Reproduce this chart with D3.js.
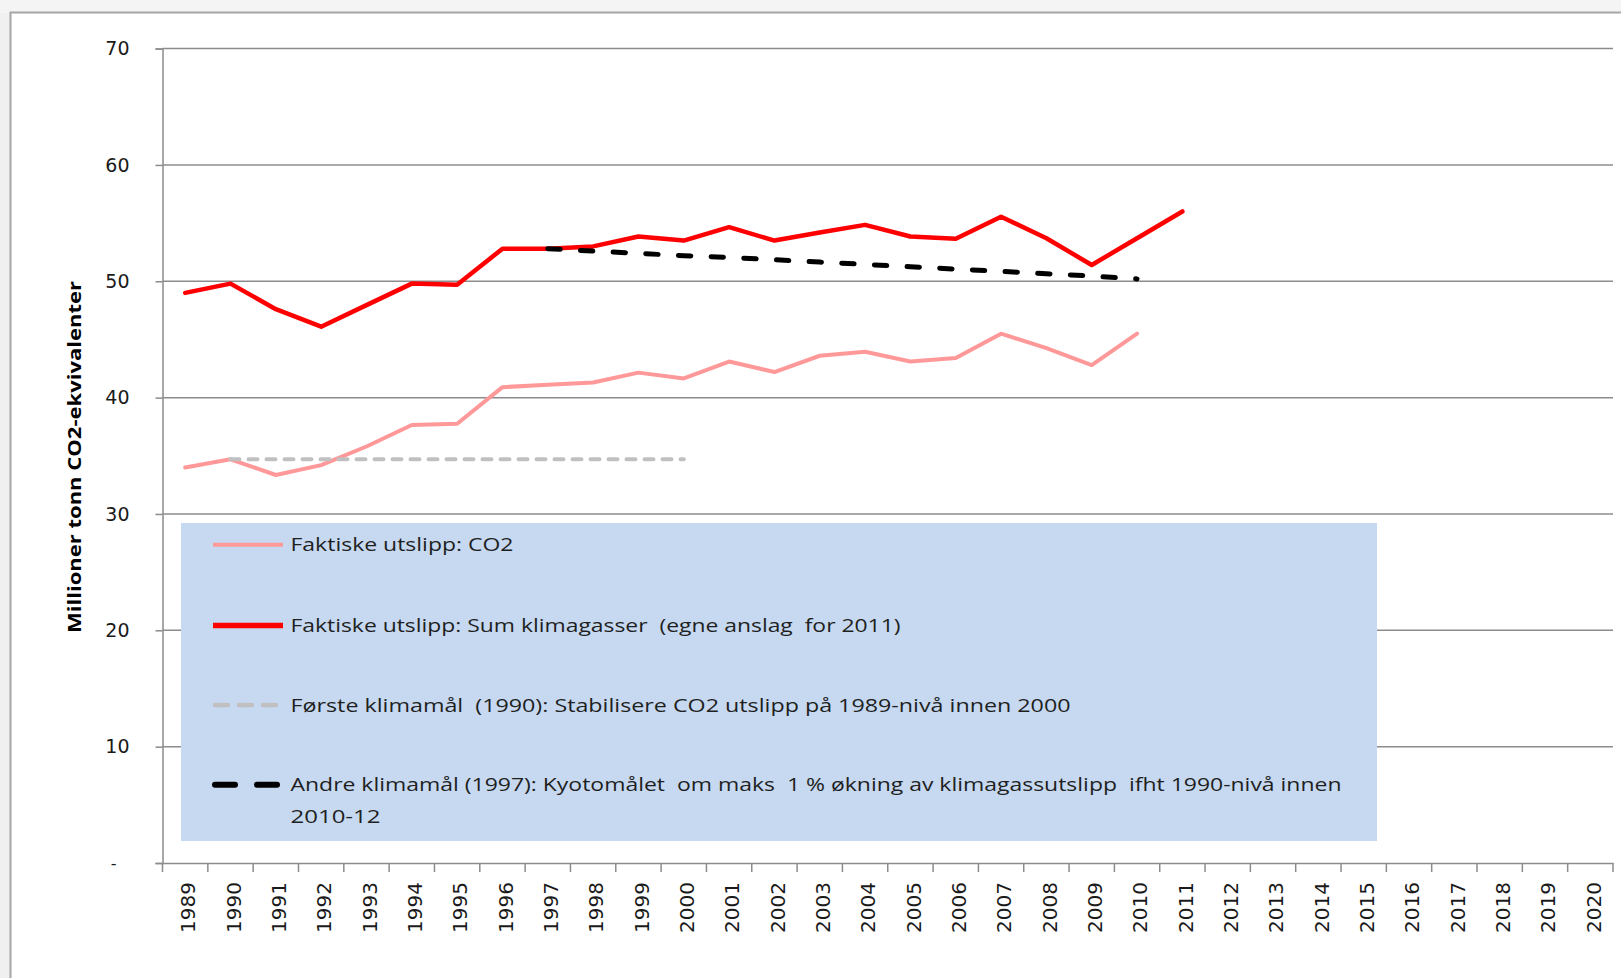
<!DOCTYPE html>
<html><head><meta charset="utf-8">
<script src="https://cdn.jsdelivr.net/npm/d3@7/dist/d3.min.js"></script>
<style>
body{margin:0;background:#f0f0f0;overflow:hidden}
svg{display:block}
</style>
</head><body>
<svg id="chart" width="1621" height="978"></svg>
<script>
const categories = ["1989","1990","1991","1992","1993","1994","1995","1996","1997","1998","1999","2000","2001","2002","2003","2004","2005","2006","2007","2008","2009","2010","2011","2012","2013","2014","2015","2016","2017","2018","2019","2020"];
const yTicks = [0,10,20,30,40,50,60,70];

const co2Years = ["1989","1990","1991","1992","1993","1994","1995","1996","1997","1998","1999","2000","2001","2002","2003","2004","2005","2006","2007","2008","2009","2010"];
const co2Values = [34.0,34.7,33.35,34.2,35.8,37.65,37.75,40.9,41.1,41.3,42.15,41.65,43.1,42.2,43.6,43.95,43.1,43.4,45.5,44.25,42.8,45.5];

const sumYears = ["1989","1990","1991","1992","1993","1994","1995","1996","1997","1998","1999","2000","2001","2002","2003","2004","2005","2006","2007","2008","2009","2010","2011"];
const sumValues = [49.0,49.8,47.6,46.1,47.95,49.8,49.7,52.8,52.8,53.0,53.85,53.5,54.65,53.5,54.2,54.85,53.85,53.65,55.55,53.7,51.4,53.7,56.0];

const goal1Years = ["1990","1991","1992","1993","1994","1995","1996","1997","1998","1999","2000"];
const goal1Values = [34.7,34.7,34.7,34.7,34.7,34.7,34.7,34.7,34.7,34.7,34.7];

const goal2Years = ["1997","1998","1999","2000","2001","2002","2003","2004","2005","2006","2007","2008","2009","2010"];
const goal2Values = [52.8,52.6,52.4,52.2,52.05,51.85,51.65,51.45,51.25,51.05,50.85,50.65,50.45,50.2];

const yTitle = "Millioner tonn CO2-ekvivalenter";
const legendTexts = [
  "Faktiske utslipp: CO2",
  "Faktiske utslipp: Sum klimagasser  (egne anslag  for 2011)",
  "Første klimamål  (1990): Stabilisere CO2 utslipp på 1989-nivå innen 2000",
  "Andre klimamål (1997): Kyotomålet  om maks  1 % økning av klimagassutslipp  ifht 1990-nivå innen",
  "2010-12"
];

const svg = d3.select("#chart");
const W = 1621, H = 978;

// backgrounds / frame
svg.append("rect").attr("x",0).attr("y",0).attr("width",W).attr("height",13).attr("fill","#f4f4f4");
svg.append("rect").attr("x",10.5).attr("y",12.5).attr("width",W+20).attr("height",H+20)
  .attr("fill","#ffffff").attr("stroke","#a6a6a6").attr("stroke-width",2);

const x0 = 162.5, x1 = 1613;
const x = d3.scaleBand().domain(categories).range([x0, x1]);
const y = d3.scaleLinear().domain([0,70]).range([863, 48.6]);
const cx = d => x(d) + x.bandwidth()/2;

// gridlines
svg.append("g").selectAll("line").data(yTicks.filter(d=>d>0)).join("line")
  .attr("x1", x0).attr("x2", x1).attr("y1", d=>y(d)).attr("y2", d=>y(d))
  .attr("stroke","#8c8c8c").attr("stroke-width",1.5);

// y axis
const yAxis = svg.append("g").attr("transform",`translate(${x0},0)`)
  .call(d3.axisLeft(y).tickValues(yTicks).tickSize(7).tickPadding(26)
    .tickFormat(d => d===0 ? "-" : d));
yAxis.select(".domain").attr("stroke","#8c8c8c").attr("stroke-width",1.5);
yAxis.selectAll(".tick line").attr("stroke","#8c8c8c").attr("stroke-width",1.5);
yAxis.selectAll(".tick text").attr("font-family","'DejaVu Sans', Verdana, sans-serif")
  .attr("font-size",19).attr("fill","#1a1a1a");
yAxis.selectAll(".tick text").filter(d=>d===0).attr("dx",-13).attr("font-size",16);

// x axis
const xAxis = svg.append("g").attr("transform",`translate(0,${y(0)})`)
  .call(d3.axisBottom(x).tickSize(0).tickPadding(0));
xAxis.select(".domain").attr("stroke","#8c8c8c").attr("stroke-width",1.5);
xAxis.selectAll(".tick text")
  .attr("font-family","'DejaVu Sans', Verdana, sans-serif").attr("font-size",20)
  .attr("fill","#1a1a1a")
  .attr("text-anchor","end")
  .attr("transform","translate(3,19) rotate(-90)")
  .attr("x",0).attr("y",0).attr("dy","0.36em");
// boundary tick marks
svg.append("g").selectAll("line").data(categories.concat(["end"])).join("line")
  .attr("x1", d => d==="end" ? x1 : x(d)).attr("x2", d => d==="end" ? x1 : x(d))
  .attr("y1", y(0)).attr("y2", y(0)+9)
  .attr("stroke","#8c8c8c").attr("stroke-width",1.5);

// y title
svg.append("text")
  .attr("transform",`translate(81,457) rotate(-90)`)
  .attr("text-anchor","middle")
  .attr("font-family","'Open Sans', 'Liberation Sans', sans-serif")
  .attr("font-weight","bold").attr("font-size",18).attr("fill","#000")
  .attr("textLength",352).attr("lengthAdjust","spacingAndGlyphs")
  .text(yTitle);

// lines
const mk = (yrs, vals) => yrs.map((yr,i)=>({yr, v: vals[i]}));
const line = d3.line().x(d=>cx(d.yr)).y(d=>y(d.v));

svg.append("path").datum(mk(co2Years, co2Values)).attr("d", line)
  .attr("fill","none").attr("stroke","#ff9999").attr("stroke-width",4)
  .attr("stroke-linejoin","round").attr("stroke-linecap","round");
svg.append("path").datum(mk(sumYears, sumValues)).attr("d", line)
  .attr("fill","none").attr("stroke","#ff0000").attr("stroke-width",4.5)
  .attr("stroke-linejoin","round").attr("stroke-linecap","round");
svg.append("path").datum(mk(goal1Years, goal1Values)).attr("d", line)
  .attr("fill","none").attr("stroke","#c0c0c0").attr("stroke-width",4)
  .attr("stroke-dasharray","9,9").attr("stroke-linecap","round");
svg.append("path").datum(mk(goal2Years, goal2Values)).attr("d", line)
  .attr("fill","none").attr("stroke","#000000").attr("stroke-width",5)
  .attr("stroke-dasharray","12.4,20.3").attr("stroke-linecap","round");

// legend
const lg = svg.append("g");
lg.append("rect").attr("x",181).attr("y",523).attr("width",1196).attr("height",318).attr("fill","#c6d9f0");
const rows = [
  {y:544.8, stroke:"#ff9999", w:4, dash:null},
  {y:625.4, stroke:"#ff0000", w:5.5, dash:null},
  {y:705, stroke:"#c0c0c0", w:4.5, dash:"13,11"},
  {y:784.7, stroke:"#000000", w:6, dash:"20,22"}
];
const legendLens = [223, 610, 780, 1051, 90];
const legendYs = [544.8, 625.4, 705, 784.7, 816.7];
lg.selectAll("line").data(rows).join("line")
  .attr("x1", (d)=> d.dash ? 215 : 213).attr("x2", d=> d.dash ? 277 : 283)
  .attr("y1", d=>d.y).attr("y2", d=>d.y)
  .attr("stroke", d=>d.stroke).attr("stroke-width", d=>d.w)
  .attr("stroke-dasharray", d=>d.dash).attr("stroke-linecap", d=>d.dash ? "round" : "butt");
lg.selectAll("text").data(legendTexts).join("text")
  .attr("x",290.5).attr("y",(d,i)=>legendYs[i]).attr("dy","0.35em")
  .attr("font-family","'Open Sans', 'Liberation Sans', sans-serif").attr("font-size",19)
  .attr("fill","#1f1f1f").style("white-space","pre")
  .attr("textLength",(d,i)=>legendLens[i]).attr("lengthAdjust","spacingAndGlyphs")
  .text(d=>d);
</script>
</body></html>
